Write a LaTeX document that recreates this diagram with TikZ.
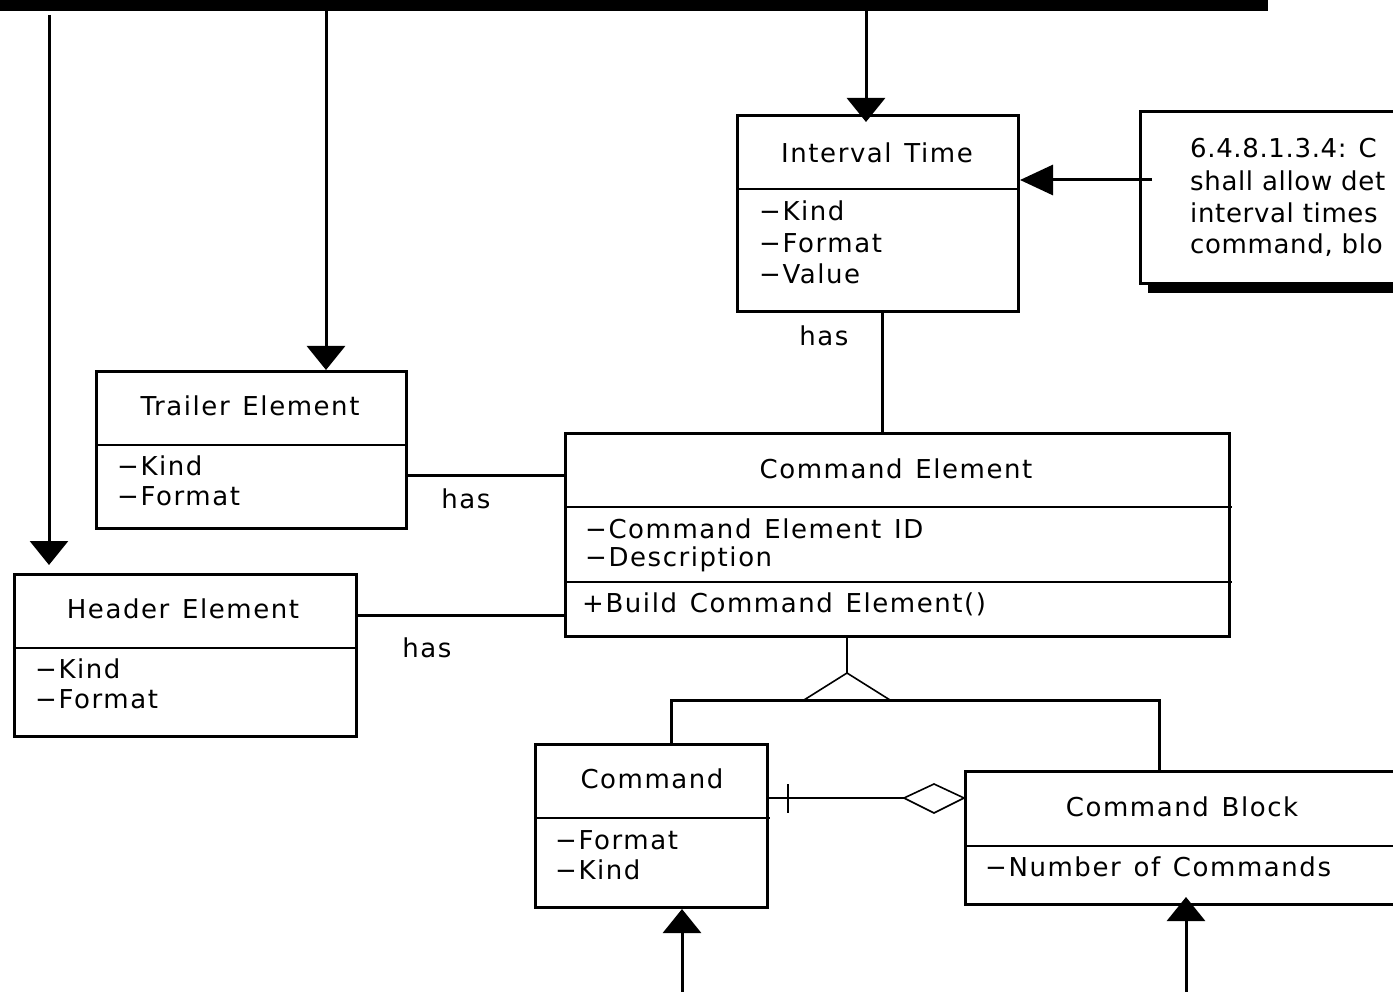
\documentclass[tikz,border=0pt]{standalone}
\usepackage{fontspec}
\setmainfont{DejaVu Sans}[LetterSpace=6,WordSpace=1.3]
\newfontfamily\notefont{DejaVu Sans}[LetterSpace=2.5]
\usetikzlibrary{arrows.meta}

\begin{document}
\begin{tikzpicture}[x=1pt,y=-1pt,
  every node/.style={font=\fontsize{26}{31}\selectfont,inner sep=0pt},
  classbox/.style={draw,line width=3pt,anchor=north west,minimum width=#1},
  divider/.style={line width=2pt},
  conn/.style={line width=3pt},
  thinline/.style={line width=1.6pt},
  arr/.style={conn,-{Triangle[width=38pt,length=24pt]}},
  title/.style={anchor=center},
  attr/.style={anchor=west},
  notetext/.style={anchor=west,font=\notefont\fontsize{26}{31}\selectfont},
]
\useasboundingbox (0,0) rectangle (1393,992);
\clip (0,0) rectangle (1393,992);

% top bus bar
\node[fill=black,anchor=north west,minimum width=1268pt,minimum height=11pt] (bus) at (0,0) {};

% class boxes
\node[classbox=281pt,minimum height=196pt] (interval) at (736,114) {};
\node[classbox=310pt,minimum height=157pt] (trailer) at (95,370) {};
\node[classbox=342pt,minimum height=162pt] (header) at (13,573) {};
\node[classbox=664pt,minimum height=203pt] (cmdel) at (564,432) {};
\node[classbox=232pt,minimum height=163pt] (command) at (534,743) {};
\node[classbox=440pt,minimum height=133pt] (cblock) at (964,770) {};

% note with drop shadow
\fill (1148,282) rectangle (1400,293);
\node[classbox=270pt,minimum height=172pt] (note) at (1139,110) {};

% compartment dividers
\draw[divider] (interval.west |- 0,189) -- (1020,189);
\draw[divider] (trailer.west |- 0,445) -- (408,445);
\draw[divider] (header.west |- 0,648) -- (358,648);
\draw[divider] (cmdel.west |- 0,507) -- (1232,507);
\draw[divider] (cmdel.west |- 0,582) -- (1232,582);
\draw[divider] (command.west |- 0,818) -- (770,818);
\draw[divider] (cblock.west |- 0,846) -- (1400,846);

% titles
\node[title] (itT) at (877,153) {Interval Time};
\node[title] (trT) at (250,406) {Trailer Element};
\node[title] (hdT) at (183,609) {Header Element};
\node[title] (ceT) at (896,469) {Command Element};
\node[title] (cmT) at (652,779) {Command};
\node[title] (cbT) at (1182,807) {Command Block};

% attributes and operations
\node[attr] (itA1) at (759,211) {−Kind};
\node[attr] (itA2) at (759,243) {−Format};
\node[attr] (itA3) at (759,274) {−Value};
\node[attr] (trA1) at (117,466) {−Kind};
\node[attr] (trA2) at (117,496) {−Format};
\node[attr] (hdA1) at (35,669) {−Kind};
\node[attr] (hdA2) at (35,699) {−Format};
\node[attr] (ceA1) at (585,529) {−Command Element ID};
\node[attr] (ceA2) at (585,559) {−Description};
\node[attr] (ceM1) at (582,604) {+Build Command Element()};
\node[attr] (cmA1) at (555,840) {−Format};
\node[attr] (cmA2) at (555,870) {−Kind};
\node[attr] (cbA1) at (985,867) {−Number of Commands};

% note text
\node[notetext] (nt1) at (1190,148) {6.4.8.1.3.4: C};
\node[notetext] (nt2) at (1190,181) {shall allow det};
\node[notetext] (nt3) at (1190,213) {interval times};
\node[notetext] (nt4) at (1190,245) {command, blo};

% association labels
\node (has1) at (824,336) {has};
\node (has2) at (466,499) {has};
\node (has3) at (427,648) {has};

% reference points for connectors
\coordinate (itX) at (866,0);
\coordinate (itTip) at (866,122);
\coordinate (trX) at (326,0);
\coordinate (hdStart) at (49,15);
\coordinate (hdTip) at (49,565);
\coordinate (noteStart) at (1152,180);
\coordinate (hasX) at (882,0);
\coordinate (trY) at (0,475);
\coordinate (hdY) at (0,615);
\coordinate (genX) at (847,0);
\coordinate (apex) at (847,673);
\coordinate (baseL) at (804,700);
\coordinate (baseR) at (890,700);
\coordinate (cmX) at (671,0);
\coordinate (cbX) at (1159,0);
\coordinate (busY) at (0,700);
\coordinate (aggY) at (0,798);
\coordinate (dL) at (904,798);
\coordinate (dT) at (934,784);
\coordinate (dB) at (934,813);
\coordinate (tickT) at (788,784);
\coordinate (tickB) at (788,813);
\coordinate (cmIn) at (682,992);
\coordinate (cbIn) at (1186,992);
\coordinate (cbTip) at (1186,897);

% arrows from the bus
\draw[arr] (bus.south -| itX) -- (itTip);
\draw[arr] (bus.south -| trX) -- (trailer.north -| trX);
\draw[arr] (hdStart) -- (hdTip);

% note link
\draw[conn,-{Triangle[width=30pt,length=33pt]}] (noteStart) -- (interval.east |- noteStart);

% associations
\draw[conn] (interval.south -| hasX) -- (cmdel.north -| hasX);
\draw[conn] (trailer.east |- trY) -- (cmdel.west |- trY);
\draw[conn] (header.east |- hdY) -- (cmdel.west |- hdY);

% generalization
\draw[line width=2pt] (cmdel.south -| genX) -- (apex);
\draw[thinline] (apex) -- (baseL) -- (baseR) -- cycle;
\draw[conn] (command.north -| cmX) -- (cmX |- busY) -- (cbX |- busY) -- (cblock.north -| cbX);

% aggregation between Command and Command Block
\draw[line width=2pt] (command.east |- aggY) -- (dL);
\draw[line width=2pt] (tickT) -- (tickB);
\draw[thinline] (dL) -- (dT) -- (cblock.west |- aggY) -- (dB) -- cycle;

% incoming arrows from below
\draw[arr] (cmIn) -- (command.south -| cmIn);
\draw[arr] (cbIn) -- (cbTip);
\end{tikzpicture}
\end{document}
